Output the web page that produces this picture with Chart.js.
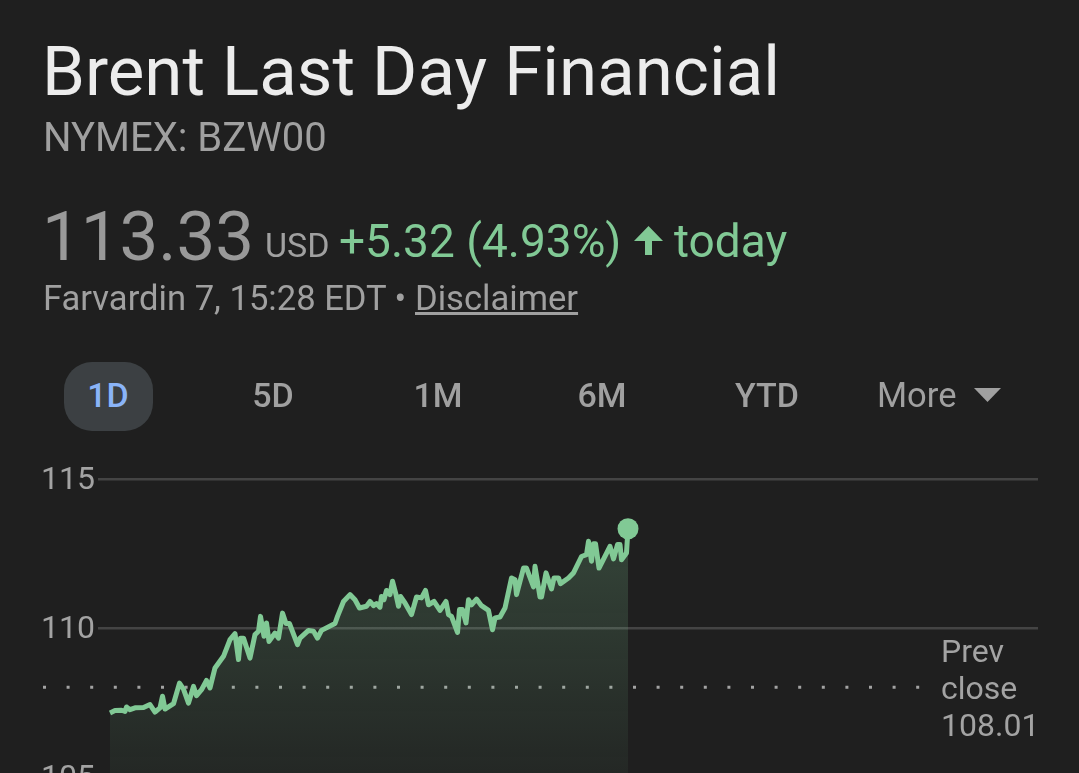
<!DOCTYPE html>
<html lang="en">
  <head>
    <meta charset="UTF-8" />
    <title>Brent Last Day Financial</title>
    <script src="https://cdn.jsdelivr.net/npm/chart.js@4"></script>
    <style>
      html, body { margin: 0; height: 773px; overflow: hidden; background: #1f1f1f; }
      body { position: relative; font-family: Roboto, sans-serif; color: #a0a0a0; }
      canvas { position: absolute; left: 0; top: 0; }
      .t { position: absolute; line-height: 1; white-space: nowrap; }
      .green { color: #81c995; }
      .tab { font-size: 34px; font-weight: 500; top: 378px; transform: translateX(-50%); }
      .prev { font-size: 32px; left: 941px; color: #a3a3a3; }
    </style>
  </head>
  <body>
    <canvas id="myChart" width="1079" height="800"></canvas>

    <div class="t" style="left:42px;top:37px;font-size:69px;color:#ececec">Brent Last Day Financial</div>
    <div class="t" style="left:43px;top:118px;font-size:40px">NYMEX: BZW00</div>

    <div class="t" style="left:42px;top:202px;font-size:69px;color:#999">113.33</div>
    <div class="t" style="left:265px;top:228px;font-size:34px">USD</div>
    <div class="t green" style="left:339px;top:218px;font-size:46px">+5.32 (4.93%)</div>
    <svg style="position:absolute;left:632px;top:224px" width="33" height="33" viewBox="0 0 33 33">
      <path fill="#81c995" d="M16.5 2 L31 17 L20 17 L20 31 L13 31 L13 17 L2 17 Z" />
    </svg>
    <div class="t green" style="left:674px;top:218px;font-size:46px">today</div>

    <div class="t" style="left:43px;top:281px;font-size:34.6px">Farvardin 7, 15:28 EDT •</div>
    <div class="t" style="left:415px;top:281px;font-size:34.6px;text-decoration:underline">Disclaimer</div>

    <div style="position:absolute;left:64px;top:362px;width:89px;height:69px;border-radius:28px;background:#3c4043"></div>
    <div class="t tab" style="left:108px;color:#8ab4f8">1D</div>
    <div class="t tab" style="left:273px">5D</div>
    <div class="t tab" style="left:438px">1M</div>
    <div class="t tab" style="left:602px">6M</div>
    <div class="t tab" style="left:767px">YTD</div>
    <div class="t" style="left:877px;top:378px;font-size:34.5px">More</div>
    <svg style="position:absolute;left:974px;top:388px" width="27" height="15" viewBox="0 0 27 15">
      <path fill="#a0a0a0" d="M0 0 L27 0 L13.5 14 Z" />
    </svg>

    <div class="t prev" style="top:635px">Prev</div>
    <div class="t prev" style="top:672px">close</div>
    <div class="t prev" style="top:709px">108.01</div>

    <script>
      // minutes since the session start
      const minutes = [
        0, 10, 23, 30, 33, 40, 50, 67, 80, 90, 100, 105, 110, 127, 139, 147, 157, 167, 173, 183,
        193, 200, 210, 227, 240, 250, 257, 261, 267, 280, 290, 297, 301, 308, 313, 318, 330, 337, 345, 352,
        359, 375, 380, 397, 407, 415, 423, 450, 455, 467, 480, 490, 499, 513, 520, 527, 533, 540, 543, 548,
        553, 560, 565, 572, 577, 581, 590, 603, 613, 623, 631, 637, 648, 660, 672, 677, 683, 695, 699, 705,
        712, 717, 723, 733, 743, 757, 765, 770, 780, 790, 803, 810, 813, 827, 833, 847, 850, 860, 863, 872,
        883, 888, 897, 901, 917, 927, 943, 953, 957, 963, 967, 971, 978, 1000, 1007, 1015, 1020, 1023, 1033, 1036
      ];
      const prices = [
        107.15, 107.23, 107.24, 107.20, 107.35, 107.26, 107.32, 107.33, 107.43, 107.18, 107.32, 107.71, 107.28, 107.46, 108.15, 107.95, 107.48, 108.04, 107.73, 107.93,
        108.24, 107.99, 108.66, 109.05, 109.61, 109.81, 108.94, 109.66, 109.66, 108.99, 109.78, 109.89, 110.39, 109.72, 110.17, 109.55, 109.83, 109.66, 110.50, 110.15,
        110.15, 109.44, 109.66, 109.92, 109.89, 109.66, 109.92, 110.15, 110.39, 110.89, 111.12, 110.95, 110.67, 110.73, 110.89, 110.75, 110.82, 110.70, 111.06, 110.95,
        111.26, 111.12, 111.57, 111.12, 110.73, 111.06, 110.84, 110.45, 111.04, 111.01, 111.26, 110.78, 110.89, 110.59, 110.89, 110.45, 110.39, 109.85, 110.62, 110.62,
        110.17, 110.95, 110.78, 110.97, 110.75, 110.59, 109.94, 110.34, 110.37, 110.67, 111.68, 111.62, 111.12, 112.01, 112.01, 111.38, 112.07, 111.04, 111.04, 111.85,
        111.31, 111.68, 111.68, 111.49, 111.68, 111.85, 112.40, 112.46, 112.91, 112.24, 112.83, 112.83, 112.01, 112.74, 112.32, 112.80, 112.80, 112.29, 112.52, 113.33
      ];
      const prevClose = 108.01;
      const prevCloseRange = [-134, 1622];
      const yTicks = [105, 110, 115];
      const xRange = [-24, 1856];

      const GREEN = '#81c995';

      function fillGradient(context) {
        const area = context.chart.chartArea;
        if (!area) return 'transparent';
        const g = context.chart.ctx.createLinearGradient(0, 530, 0, area.bottom);
        g.addColorStop(0, 'rgba(129, 201, 149, 0.22)');
        g.addColorStop(1, 'rgba(129, 201, 149, 0.05)');
        return g;
      }

      const lastIndex = prices.length - 1;

      new Chart(document.getElementById('myChart'), {
        type: 'line',
        data: {
          datasets: [
            {
              data: minutes.map((m, i) => ({ x: m, y: prices[i] })),
              borderColor: GREEN,
              borderWidth: 5,
              borderJoinStyle: 'round',
              backgroundColor: fillGradient,
              fill: 'start',
              tension: 0,
              pointRadius: c => (c.dataIndex === lastIndex ? 10.5 : 0),
              pointBackgroundColor: GREEN,
              pointBorderWidth: 0,
              order: 1
            },
            {
              data: prevCloseRange.map(m => ({ x: m, y: prevClose })),
              borderColor: '#a3a3a3',
              borderWidth: 3,
              borderDash: [3, 20.6],
              pointRadius: 0,
              clip: false,
              order: 2
            }
          ]
        },
        options: {
          responsive: false,
          animation: false,
          layout: { padding: { top: 479, bottom: 23, left: 0, right: 41 } },
          plugins: { legend: { display: false }, tooltip: { enabled: false } },
          scales: {
            x: { type: 'linear', display: false, min: xRange[0], max: xRange[1] },
            y: {
              min: yTicks[0],
              max: yTicks[yTicks.length - 1],
              afterBuildTicks: s => { s.ticks = yTicks.map(v => ({ value: v })); },
              afterFit: s => { s.width = 98; },
              border: { display: false },
              grid: { color: '#444444', lineWidth: 2.5, drawTicks: false },
              ticks: {
                color: '#a3a3a3',
                font: { family: 'Roboto', size: 32 },
                padding: 3,
                labelOffset: 2
              }
            }
          }
        }
      });
    </script>
  </body>
</html>
